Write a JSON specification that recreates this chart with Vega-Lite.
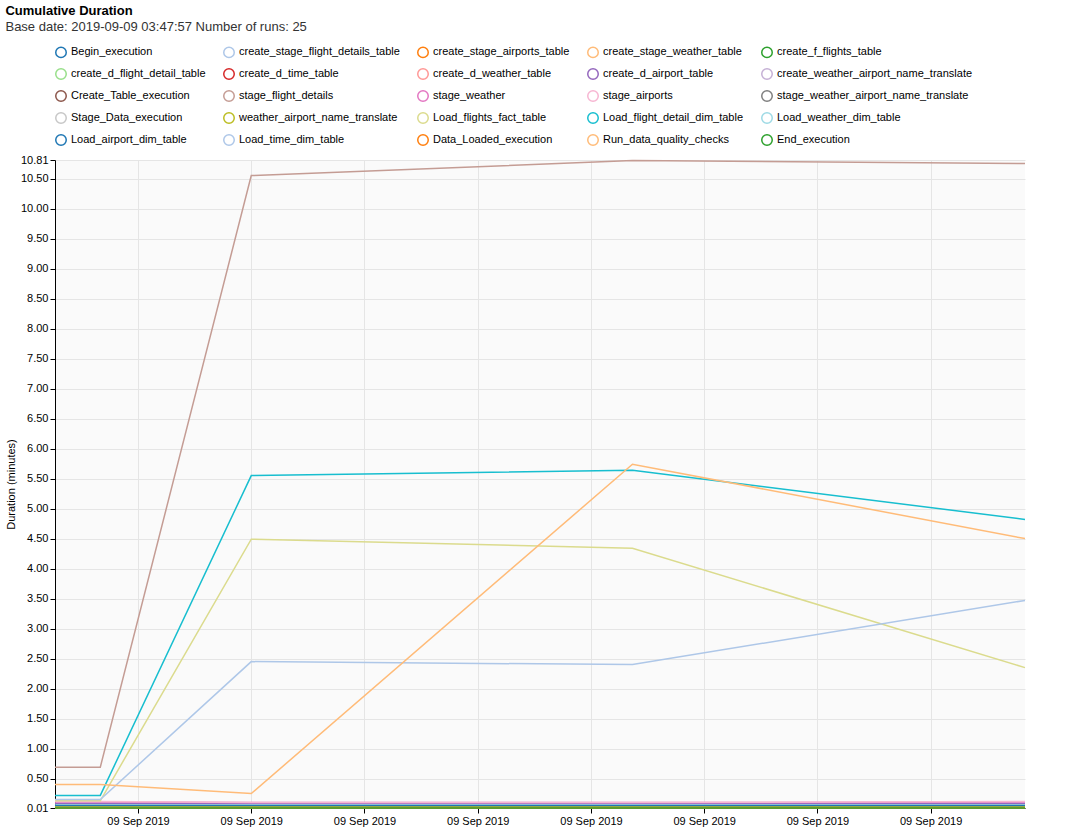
{
"$schema":"https://vega.github.io/schema/vega-lite/v6.json",
"width":970,"height":648,
"padding":{"left":5,"top":5,"right":40,"bottom":5},
"background":"white",
"title":{"text":"Cumulative Duration","subtitle":"Base date: 2019-09-09 03:47:57     Number of runs: 25","anchor":"start","font":"Liberation Sans","fontSize":13,"subtitleFont":"Liberation Sans","subtitleFontSize":13,"subtitleColor":"#333","offset":12},
"data":{"values":[
{"t":"2019-09-09T03:08:00","Begin_execution":0.01,"create_stage_flight_details_table":0.02,"create_stage_airports_table":0.02,"create_stage_weather_table":0.02,"create_f_flights_table":0.02,"create_d_flight_detail_table":0.02,"create_d_time_table":0.02,"create_d_weather_table":0.02,"create_d_airport_table":0.09,"create_weather_airport_name_translate":0.02,"Create_Table_execution":0.01,"stage_flight_details":0.69,"stage_weather":0.11,"stage_airports":0.12,"stage_weather_airport_name_translate":0.05,"Stage_Data_execution":0.01,"weather_airport_name_translate":0.04,"Load_flights_fact_table":0.13,"Load_flight_detail_dim_table":0.22,"Load_weather_dim_table":0.06,"Load_airport_dim_table":0.05,"Load_time_dim_table":0.15,"Data_Loaded_execution":0.01,"Run_data_quality_checks":0.40,"End_execution":0.01},
{"t":"2019-09-09T03:20:00","Begin_execution":0.01,"create_stage_flight_details_table":0.02,"create_stage_airports_table":0.02,"create_stage_weather_table":0.02,"create_f_flights_table":0.02,"create_d_flight_detail_table":0.02,"create_d_time_table":0.02,"create_d_weather_table":0.02,"create_d_airport_table":0.09,"create_weather_airport_name_translate":0.02,"Create_Table_execution":0.01,"stage_flight_details":0.69,"stage_weather":0.11,"stage_airports":0.12,"stage_weather_airport_name_translate":0.05,"Stage_Data_execution":0.01,"weather_airport_name_translate":0.04,"Load_flights_fact_table":0.13,"Load_flight_detail_dim_table":0.22,"Load_weather_dim_table":0.06,"Load_airport_dim_table":0.05,"Load_time_dim_table":0.15,"Data_Loaded_execution":0.01,"Run_data_quality_checks":0.40,"End_execution":0.01},
{"t":"2019-09-09T04:00:00","Begin_execution":0.01,"create_stage_flight_details_table":0.02,"create_stage_airports_table":0.02,"create_stage_weather_table":0.02,"create_f_flights_table":0.02,"create_d_flight_detail_table":0.02,"create_d_time_table":0.02,"create_d_weather_table":0.02,"create_d_airport_table":0.09,"create_weather_airport_name_translate":0.02,"Create_Table_execution":0.01,"stage_flight_details":10.55,"stage_weather":0.1,"stage_airports":0.1,"stage_weather_airport_name_translate":0.05,"Stage_Data_execution":0.01,"weather_airport_name_translate":0.04,"Load_flights_fact_table":4.49,"Load_flight_detail_dim_table":5.55,"Load_weather_dim_table":0.06,"Load_airport_dim_table":0.05,"Load_time_dim_table":2.45,"Data_Loaded_execution":0.01,"Run_data_quality_checks":0.25,"End_execution":0.01},
{"t":"2019-09-09T05:41:00","Begin_execution":0.01,"create_stage_flight_details_table":0.02,"create_stage_airports_table":0.02,"create_stage_weather_table":0.02,"create_f_flights_table":0.02,"create_d_flight_detail_table":0.02,"create_d_time_table":0.02,"create_d_weather_table":0.02,"create_d_airport_table":0.09,"create_weather_airport_name_translate":0.02,"Create_Table_execution":0.01,"stage_flight_details":10.80,"stage_weather":0.1,"stage_airports":0.1,"stage_weather_airport_name_translate":0.05,"Stage_Data_execution":0.01,"weather_airport_name_translate":0.04,"Load_flights_fact_table":4.34,"Load_flight_detail_dim_table":5.64,"Load_weather_dim_table":0.06,"Load_airport_dim_table":0.05,"Load_time_dim_table":2.40,"Data_Loaded_execution":0.01,"Run_data_quality_checks":5.74,"End_execution":0.01},
{"t":"2019-09-09T07:25:00","Begin_execution":0.01,"create_stage_flight_details_table":0.02,"create_stage_airports_table":0.02,"create_stage_weather_table":0.02,"create_f_flights_table":0.02,"create_d_flight_detail_table":0.02,"create_d_time_table":0.02,"create_d_weather_table":0.02,"create_d_airport_table":0.09,"create_weather_airport_name_translate":0.02,"Create_Table_execution":0.01,"stage_flight_details":10.75,"stage_weather":0.11,"stage_airports":0.12,"stage_weather_airport_name_translate":0.05,"Stage_Data_execution":0.01,"weather_airport_name_translate":0.04,"Load_flights_fact_table":2.35,"Load_flight_detail_dim_table":4.82,"Load_weather_dim_table":0.06,"Load_airport_dim_table":0.05,"Load_time_dim_table":3.47,"Data_Loaded_execution":0.01,"Run_data_quality_checks":4.50,"End_execution":0.01}
]},
"transform":[{"fold":["Begin_execution","create_stage_flight_details_table","create_stage_airports_table","create_stage_weather_table","create_f_flights_table","create_d_flight_detail_table","create_d_time_table","create_d_weather_table","create_d_airport_table","create_weather_airport_name_translate","Create_Table_execution","stage_flight_details","stage_weather","stage_airports","stage_weather_airport_name_translate","Stage_Data_execution","weather_airport_name_translate","Load_flights_fact_table","Load_flight_detail_dim_table","Load_weather_dim_table","Load_airport_dim_table","Load_time_dim_table","Data_Loaded_execution","Run_data_quality_checks","End_execution"],"as":["task","v"]}],
"mark":{"type":"line","strokeWidth":1.5},
"encoding":{
"x":{"field":"t","type":"temporal","scale":{"domain":["2019-09-09T03:08:00","2019-09-09T07:25:00"]},
"axis":{"title":null,"tickCount":9,"labelExpr":"'09 Sep 2019'","labelFontSize":11,"labelColor":"#000","gridColor":"#e5e5e5","domainColor":"#000","tickColor":"#000"}},
"y":{"field":"v","type":"quantitative","scale":{"domain":[0.01,10.81],"nice":false,"zero":false},
"axis":{"title":"Duration (minutes)","titleFontWeight":"normal","titleFontSize":11,"format":".2f","values":[0.01,0.5,1,1.5,2,2.5,3,3.5,4,4.5,5,5.5,6,6.5,7,7.5,8,8.5,9,9.5,10,10.5,10.81],"labelFontSize":11,"labelColor":"#000","gridColor":"#e5e5e5","domainColor":"#000","tickColor":"#000"}},
"color":{"field":"task","type":"nominal",
"scale":{"domain":["Begin_execution","create_stage_flight_details_table","create_stage_airports_table","create_stage_weather_table","create_f_flights_table","create_d_flight_detail_table","create_d_time_table","create_d_weather_table","create_d_airport_table","create_weather_airport_name_translate","Create_Table_execution","stage_flight_details","stage_weather","stage_airports","stage_weather_airport_name_translate","Stage_Data_execution","weather_airport_name_translate","Load_flights_fact_table","Load_flight_detail_dim_table","Load_weather_dim_table","Load_airport_dim_table","Load_time_dim_table","Data_Loaded_execution","Run_data_quality_checks","End_execution"],
"range":["#1f77b4","#aec7e8","#ff7f0e","#ffbb78","#2ca02c","#98df8a","#d62728","#ff9896","#9467bd","#c5b0d5","#8c564b","#c49c94","#e377c2","#f7b6d2","#7f7f7f","#c7c7c7","#bcbd22","#dbdb8d","#17becf","#9edae5","#1f77b4","#aec7e8","#ff7f0e","#ffbb78","#2ca02c"]},
"legend":{"title":null,"orient":"top","direction":"horizontal","columns":5,"symbolType":"circle","symbolSize":110,"labelFontSize":11,"labelLimit":220,"columnPadding":14,"rowPadding":4,"offset":8}}
},
"config":{"font":"Liberation Sans","view":{"stroke":null,"fill":"#fafafa"}}
}
